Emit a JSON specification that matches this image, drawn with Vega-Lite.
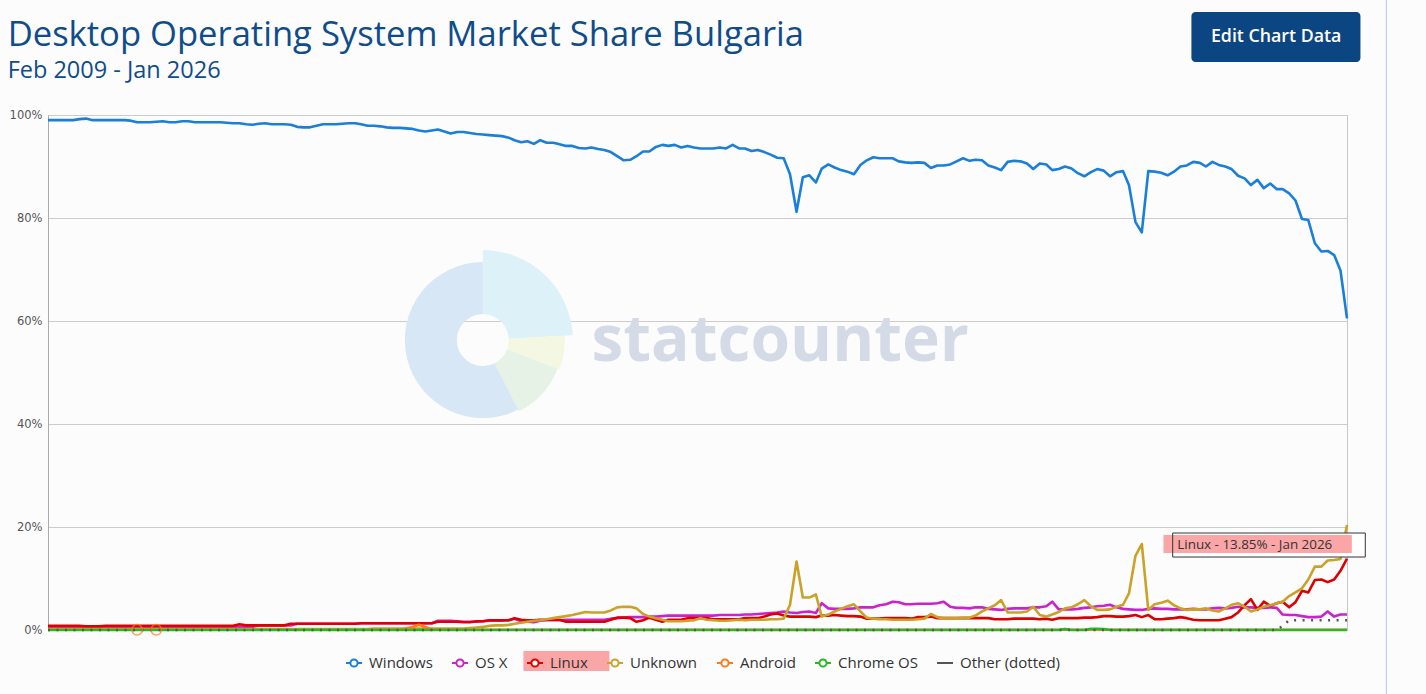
{
"$schema": "https://vega.github.io/schema/vega-lite/v6.json",
"width": 1299, "height": 515,
"autosize": {"type": "none"},
"padding": {"left": 48, "top": 115, "right": 79, "bottom": 64},
"background": "#fcfcfd",
"config": {"view": {"stroke": "#c8c8c8", "strokeWidth": 1}, "font": "Open Sans"},
"datasets": {"share": [
{"month":"2009-02-01","Windows":99.0,"OS X":0.4,"Linux":0.8,"Unknown":0.2,"Chrome OS":0,"Other":0},
{"month":"2009-03-01","Windows":99.0,"OS X":0.4,"Linux":0.8,"Unknown":0.2,"Chrome OS":0,"Other":0},
{"month":"2009-04-01","Windows":99.0,"OS X":0.4,"Linux":0.8,"Unknown":0.2,"Chrome OS":0,"Other":0},
{"month":"2009-05-01","Windows":99.0,"OS X":0.4,"Linux":0.8,"Unknown":0.2,"Chrome OS":0,"Other":0},
{"month":"2009-06-01","Windows":99.0,"OS X":0.4,"Linux":0.8,"Unknown":0.2,"Chrome OS":0,"Other":0},
{"month":"2009-07-01","Windows":99.2,"OS X":0.4,"Linux":0.8,"Unknown":0.2,"Chrome OS":0,"Other":0},
{"month":"2009-08-01","Windows":99.3,"OS X":0.4,"Linux":0.7,"Unknown":0.2,"Chrome OS":0,"Other":0},
{"month":"2009-09-01","Windows":99.0,"OS X":0.4,"Linux":0.7,"Unknown":0.2,"Chrome OS":0,"Other":0},
{"month":"2009-10-01","Windows":99.0,"OS X":0.4,"Linux":0.7,"Unknown":0.2,"Chrome OS":0,"Other":0},
{"month":"2009-11-01","Windows":99.0,"OS X":0.4,"Linux":0.8,"Unknown":0.2,"Chrome OS":0,"Other":0},
{"month":"2009-12-01","Windows":99.0,"OS X":0.4,"Linux":0.8,"Unknown":0.2,"Chrome OS":0,"Other":0},
{"month":"2010-01-01","Windows":99.0,"OS X":0.4,"Linux":0.8,"Unknown":0.2,"Chrome OS":0,"Other":0},
{"month":"2010-02-01","Windows":99.0,"OS X":0.4,"Linux":0.8,"Unknown":0.2,"Chrome OS":0,"Other":0},
{"month":"2010-03-01","Windows":98.9,"OS X":0.5,"Linux":0.8,"Unknown":0.2,"Chrome OS":0,"Other":0},
{"month":"2010-04-01","Windows":98.6,"OS X":0.5,"Linux":0.8,"Unknown":0.2,"Android":0.05,"Chrome OS":0,"Other":0},
{"month":"2010-05-01","Windows":98.6,"OS X":0.5,"Linux":0.8,"Unknown":0.2,"Chrome OS":0,"Other":0},
{"month":"2010-06-01","Windows":98.6,"OS X":0.5,"Linux":0.8,"Unknown":0.2,"Chrome OS":0,"Other":0},
{"month":"2010-07-01","Windows":98.7,"OS X":0.5,"Linux":0.8,"Unknown":0.2,"Android":0.05,"Chrome OS":0,"Other":0},
{"month":"2010-08-01","Windows":98.8,"OS X":0.5,"Linux":0.8,"Unknown":0.2,"Chrome OS":0,"Other":0},
{"month":"2010-09-01","Windows":98.6,"OS X":0.5,"Linux":0.8,"Unknown":0.2,"Chrome OS":0,"Other":0},
{"month":"2010-10-01","Windows":98.6,"OS X":0.5,"Linux":0.8,"Unknown":0.2,"Chrome OS":0,"Other":0},
{"month":"2010-11-01","Windows":98.8,"OS X":0.5,"Linux":0.8,"Unknown":0.2,"Chrome OS":0,"Other":0},
{"month":"2010-12-01","Windows":98.8,"OS X":0.5,"Linux":0.8,"Unknown":0.2,"Chrome OS":0,"Other":0},
{"month":"2011-01-01","Windows":98.6,"OS X":0.5,"Linux":0.8,"Unknown":0.2,"Chrome OS":0,"Other":0},
{"month":"2011-02-01","Windows":98.6,"OS X":0.5,"Linux":0.8,"Unknown":0.2,"Chrome OS":0,"Other":0},
{"month":"2011-03-01","Windows":98.6,"OS X":0.6,"Linux":0.8,"Unknown":0.2,"Chrome OS":0,"Other":0},
{"month":"2011-04-01","Windows":98.6,"OS X":0.6,"Linux":0.8,"Unknown":0.2,"Chrome OS":0,"Other":0},
{"month":"2011-05-01","Windows":98.6,"OS X":0.6,"Linux":0.8,"Unknown":0.2,"Chrome OS":0,"Other":0},
{"month":"2011-06-01","Windows":98.5,"OS X":0.6,"Linux":0.8,"Unknown":0.2,"Chrome OS":0,"Other":0},
{"month":"2011-07-01","Windows":98.4,"OS X":0.6,"Linux":0.8,"Unknown":0.2,"Chrome OS":0,"Other":0},
{"month":"2011-08-01","Windows":98.4,"OS X":0.6,"Linux":1.1,"Unknown":0.2,"Chrome OS":0,"Other":0},
{"month":"2011-09-01","Windows":98.2,"OS X":0.6,"Linux":0.9,"Unknown":0.2,"Chrome OS":0,"Other":0},
{"month":"2011-10-01","Windows":98.1,"OS X":0.6,"Linux":0.9,"Unknown":0.2,"Chrome OS":0,"Other":0},
{"month":"2011-11-01","Windows":98.3,"OS X":0.9,"Linux":0.9,"Unknown":0.2,"Chrome OS":0,"Other":0},
{"month":"2011-12-01","Windows":98.4,"OS X":0.9,"Linux":0.9,"Unknown":0.2,"Chrome OS":0,"Other":0},
{"month":"2012-01-01","Windows":98.2,"OS X":0.9,"Linux":0.9,"Unknown":0.2,"Chrome OS":0,"Other":0},
{"month":"2012-02-01","Windows":98.2,"OS X":0.9,"Linux":0.9,"Unknown":0.2,"Chrome OS":0,"Other":0},
{"month":"2012-03-01","Windows":98.2,"OS X":0.9,"Linux":0.9,"Unknown":0.2,"Chrome OS":0,"Other":0},
{"month":"2012-04-01","Windows":98.1,"OS X":0.9,"Linux":1.2,"Unknown":0.2,"Chrome OS":0,"Other":0},
{"month":"2012-05-01","Windows":97.7,"OS X":1.2,"Linux":1.2,"Unknown":0.2,"Chrome OS":0,"Other":0},
{"month":"2012-06-01","Windows":97.6,"OS X":1.2,"Linux":1.2,"Unknown":0.2,"Chrome OS":0,"Other":0},
{"month":"2012-07-01","Windows":97.6,"OS X":1.2,"Linux":1.2,"Unknown":0.2,"Chrome OS":0,"Other":0},
{"month":"2012-08-01","Windows":97.9,"OS X":1.2,"Linux":1.2,"Unknown":0.2,"Chrome OS":0,"Other":0},
{"month":"2012-09-01","Windows":98.2,"OS X":1.2,"Linux":1.2,"Unknown":0.2,"Chrome OS":0,"Other":0},
{"month":"2012-10-01","Windows":98.2,"OS X":1.2,"Linux":1.2,"Unknown":0.2,"Chrome OS":0,"Other":0},
{"month":"2012-11-01","Windows":98.2,"OS X":1.2,"Linux":1.2,"Unknown":0.2,"Chrome OS":0,"Other":0},
{"month":"2012-12-01","Windows":98.3,"OS X":1.2,"Linux":1.2,"Unknown":0.2,"Chrome OS":0,"Other":0},
{"month":"2013-01-01","Windows":98.4,"OS X":1.2,"Linux":1.2,"Unknown":0.2,"Chrome OS":0,"Other":0},
{"month":"2013-02-01","Windows":98.4,"OS X":1.2,"Linux":1.2,"Unknown":0.2,"Chrome OS":0,"Other":0},
{"month":"2013-03-01","Windows":98.2,"OS X":1.3,"Linux":1.3,"Unknown":0.2,"Chrome OS":0,"Other":0},
{"month":"2013-04-01","Windows":97.9,"OS X":1.3,"Linux":1.3,"Unknown":0.2,"Android":0.05,"Chrome OS":0,"Other":0},
{"month":"2013-05-01","Windows":97.9,"OS X":1.3,"Linux":1.3,"Unknown":0.3,"Android":0.05,"Chrome OS":0,"Other":0},
{"month":"2013-06-01","Windows":97.8,"OS X":1.3,"Linux":1.3,"Unknown":0.3,"Android":0.05,"Chrome OS":0,"Other":0},
{"month":"2013-07-01","Windows":97.6,"OS X":1.3,"Linux":1.3,"Unknown":0.3,"Android":0.05,"Chrome OS":0,"Other":0},
{"month":"2013-08-01","Windows":97.5,"OS X":1.3,"Linux":1.3,"Unknown":0.3,"Android":0.05,"Chrome OS":0,"Other":0},
{"month":"2013-09-01","Windows":97.5,"OS X":1.3,"Linux":1.3,"Unknown":0.3,"Android":0.05,"Chrome OS":0,"Other":0},
{"month":"2013-10-01","Windows":97.4,"OS X":1.3,"Linux":1.3,"Unknown":0.3,"Android":0.3,"Chrome OS":0,"Other":0},
{"month":"2013-11-01","Windows":97.3,"OS X":1.3,"Linux":1.3,"Unknown":0.3,"Android":0.6,"Chrome OS":0,"Other":0},
{"month":"2013-12-01","Windows":97.0,"OS X":1.3,"Linux":1.3,"Unknown":0.3,"Android":1.0,"Chrome OS":0,"Other":0},
{"month":"2014-01-01","Windows":96.8,"OS X":1.3,"Linux":1.3,"Unknown":0.3,"Android":0.6,"Chrome OS":0,"Other":0},
{"month":"2014-02-01","Windows":97.0,"OS X":1.3,"Linux":1.3,"Unknown":0.3,"Android":0.1,"Chrome OS":0,"Other":0},
{"month":"2014-03-01","Windows":97.2,"OS X":1.8,"Linux":1.6,"Unknown":0.3,"Android":0.05,"Chrome OS":0,"Other":0},
{"month":"2014-04-01","Windows":96.8,"OS X":1.8,"Linux":1.6,"Unknown":0.3,"Android":0.05,"Chrome OS":0,"Other":0},
{"month":"2014-05-01","Windows":96.4,"OS X":1.8,"Linux":1.6,"Unknown":0.3,"Android":0.05,"Chrome OS":0,"Other":0},
{"month":"2014-06-01","Windows":96.7,"OS X":1.7,"Linux":1.6,"Unknown":0.3,"Android":0.05,"Chrome OS":0,"Other":0},
{"month":"2014-07-01","Windows":96.7,"OS X":1.6,"Linux":1.5,"Unknown":0.3,"Android":0.05,"Chrome OS":0,"Other":0},
{"month":"2014-08-01","Windows":96.5,"OS X":1.6,"Linux":1.5,"Unknown":0.4,"Android":0.05,"Chrome OS":0,"Other":0},
{"month":"2014-09-01","Windows":96.3,"OS X":1.6,"Linux":1.7,"Unknown":0.5,"Android":0.05,"Chrome OS":0,"Other":0},
{"month":"2014-10-01","Windows":96.2,"OS X":1.7,"Linux":1.7,"Unknown":0.6,"Android":0.05,"Chrome OS":0,"Other":0},
{"month":"2014-11-01","Windows":96.1,"OS X":1.8,"Linux":1.9,"Unknown":0.8,"Android":0.05,"Chrome OS":0,"Other":0},
{"month":"2014-12-01","Windows":96.0,"OS X":1.8,"Linux":1.9,"Unknown":0.9,"Android":0.05,"Chrome OS":0,"Other":0},
{"month":"2015-01-01","Windows":95.9,"OS X":1.8,"Linux":1.9,"Unknown":0.9,"Android":0.05,"Chrome OS":0,"Other":0},
{"month":"2015-02-01","Windows":95.6,"OS X":1.9,"Linux":1.9,"Unknown":1.0,"Android":0.05,"Chrome OS":0,"Other":0},
{"month":"2015-03-01","Windows":95.1,"OS X":2.2,"Linux":2.3,"Unknown":1.2,"Android":0.05,"Chrome OS":0,"Other":0},
{"month":"2015-04-01","Windows":94.7,"OS X":1.7,"Linux":2.0,"Unknown":1.4,"Android":0.05,"Chrome OS":0,"Other":0},
{"month":"2015-05-01","Windows":94.9,"OS X":1.6,"Linux":1.9,"Unknown":1.6,"Android":0.05,"Chrome OS":0,"Other":0},
{"month":"2015-06-01","Windows":94.4,"OS X":1.5,"Linux":1.9,"Unknown":1.8,"Android":0.05,"Chrome OS":0,"Other":0},
{"month":"2015-07-01","Windows":95.1,"OS X":1.8,"Linux":2.0,"Unknown":1.9,"Android":0.05,"Chrome OS":0,"Other":0},
{"month":"2015-08-01","Windows":94.6,"OS X":1.9,"Linux":2.0,"Unknown":2.1,"Android":0.05,"Chrome OS":0,"Other":0},
{"month":"2015-09-01","Windows":94.6,"OS X":1.9,"Linux":2.0,"Unknown":2.3,"Android":0.05,"Chrome OS":0,"Other":0},
{"month":"2015-10-01","Windows":94.3,"OS X":1.9,"Linux":2.0,"Unknown":2.5,"Android":0.05,"Chrome OS":0,"Other":0},
{"month":"2015-11-01","Windows":94.0,"OS X":2.0,"Linux":1.6,"Unknown":2.7,"Android":0.05,"Chrome OS":0,"Other":0},
{"month":"2015-12-01","Windows":94.0,"OS X":2.0,"Linux":1.6,"Unknown":2.9,"Android":0.05,"Chrome OS":0,"Other":0},
{"month":"2016-01-01","Windows":93.6,"OS X":2.0,"Linux":1.6,"Unknown":3.2,"Android":0.05,"Chrome OS":0,"Other":0},
{"month":"2016-02-01","Windows":93.5,"OS X":2.0,"Linux":1.6,"Unknown":3.5,"Android":0.05,"Chrome OS":0,"Other":0},
{"month":"2016-03-01","Windows":93.7,"OS X":2.0,"Linux":1.6,"Unknown":3.4,"Android":0.05,"Chrome OS":0,"Other":0},
{"month":"2016-04-01","Windows":93.4,"OS X":2.0,"Linux":1.6,"Unknown":3.4,"Android":0.05,"Chrome OS":0,"Other":0},
{"month":"2016-05-01","Windows":93.2,"OS X":2.0,"Linux":1.6,"Unknown":3.4,"Android":0.05,"Chrome OS":0,"Other":0},
{"month":"2016-06-01","Windows":92.8,"OS X":2.2,"Linux":2.0,"Unknown":3.8,"Android":0.05,"Chrome OS":0,"Other":0},
{"month":"2016-07-01","Windows":92.0,"OS X":2.3,"Linux":2.4,"Unknown":4.4,"Android":0.05,"Chrome OS":0,"Other":0},
{"month":"2016-08-01","Windows":91.2,"OS X":2.4,"Linux":2.4,"Unknown":4.5,"Android":0.05,"Chrome OS":0,"Other":0},
{"month":"2016-09-01","Windows":91.3,"OS X":2.5,"Linux":2.3,"Unknown":4.5,"Android":0.05,"Chrome OS":0,"Other":0},
{"month":"2016-10-01","Windows":92.0,"OS X":2.5,"Linux":1.6,"Unknown":4.2,"Android":0.05,"Chrome OS":0,"Other":0},
{"month":"2016-11-01","Windows":92.9,"OS X":2.5,"Linux":1.9,"Unknown":3.1,"Android":0.05,"Chrome OS":0,"Other":0},
{"month":"2016-12-01","Windows":92.9,"OS X":2.6,"Linux":2.4,"Unknown":2.6,"Android":0.05,"Chrome OS":0,"Other":0},
{"month":"2017-01-01","Windows":93.8,"OS X":2.6,"Linux":2.0,"Unknown":2.3,"Android":0.05,"Chrome OS":0,"Other":0},
{"month":"2017-02-01","Windows":94.2,"OS X":2.7,"Linux":1.6,"Unknown":2.0,"Android":0.05,"Chrome OS":0,"Other":0},
{"month":"2017-03-01","Windows":94.0,"OS X":2.8,"Linux":2.0,"Unknown":1.7,"Android":0.05,"Chrome OS":0,"Other":0},
{"month":"2017-04-01","Windows":94.2,"OS X":2.8,"Linux":2.0,"Unknown":1.7,"Android":0.05,"Chrome OS":0,"Other":0},
{"month":"2017-05-01","Windows":93.7,"OS X":2.8,"Linux":2.0,"Unknown":1.7,"Android":0.05,"Chrome OS":0,"Other":0},
{"month":"2017-06-01","Windows":94.0,"OS X":2.8,"Linux":2.3,"Unknown":1.8,"Android":0.05,"Chrome OS":0,"Other":0},
{"month":"2017-07-01","Windows":93.7,"OS X":2.8,"Linux":2.3,"Unknown":1.9,"Android":0.05,"Chrome OS":0,"Other":0},
{"month":"2017-08-01","Windows":93.5,"OS X":2.8,"Linux":2.3,"Unknown":2.3,"Android":0.05,"Chrome OS":0,"Other":0},
{"month":"2017-09-01","Windows":93.5,"OS X":2.8,"Linux":2.3,"Unknown":2.0,"Android":0.05,"Chrome OS":0,"Other":0},
{"month":"2017-10-01","Windows":93.5,"OS X":2.8,"Linux":2.1,"Unknown":1.9,"Android":0.05,"Chrome OS":0,"Other":0},
{"month":"2017-11-01","Windows":93.7,"OS X":2.9,"Linux":2.1,"Unknown":1.8,"Android":0.05,"Chrome OS":0,"Other":0},
{"month":"2017-12-01","Windows":93.5,"OS X":2.9,"Linux":2.1,"Unknown":1.8,"Android":0.05,"Chrome OS":0,"Other":0},
{"month":"2018-01-01","Windows":94.2,"OS X":2.9,"Linux":2.1,"Unknown":1.9,"Android":0.05,"Chrome OS":0,"Other":0},
{"month":"2018-02-01","Windows":93.5,"OS X":2.9,"Linux":2.1,"Unknown":2.0,"Android":0.05,"Chrome OS":0,"Other":0},
{"month":"2018-03-01","Windows":93.5,"OS X":3.0,"Linux":2.3,"Unknown":1.9,"Android":0.05,"Chrome OS":0,"Other":0},
{"month":"2018-04-01","Windows":93.0,"OS X":3.0,"Linux":2.3,"Unknown":2.0,"Android":0.05,"Chrome OS":0,"Other":0},
{"month":"2018-05-01","Windows":93.2,"OS X":3.1,"Linux":2.3,"Unknown":2.0,"Android":0.05,"Chrome OS":0,"Other":0},
{"month":"2018-06-01","Windows":92.8,"OS X":3.2,"Linux":2.6,"Unknown":2.0,"Android":0.05,"Chrome OS":0,"Other":0},
{"month":"2018-07-01","Windows":92.3,"OS X":3.3,"Linux":3.0,"Unknown":2.1,"Android":0.05,"Chrome OS":0,"Other":0},
{"month":"2018-08-01","Windows":91.7,"OS X":3.4,"Linux":3.2,"Unknown":2.1,"Android":0.05,"Chrome OS":0,"Other":0},
{"month":"2018-09-01","Windows":91.6,"OS X":3.6,"Linux":2.8,"Unknown":2.2,"Android":0.05,"Chrome OS":0,"Other":0},
{"month":"2018-10-01","Windows":88.5,"OS X":3.4,"Linux":2.6,"Unknown":4.9,"Android":0.05,"Chrome OS":0,"Other":0},
{"month":"2018-11-01","Windows":81.2,"OS X":3.3,"Linux":2.6,"Unknown":13.3,"Android":0.05,"Chrome OS":0,"Other":0},
{"month":"2018-12-01","Windows":87.9,"OS X":3.5,"Linux":2.6,"Unknown":6.3,"Android":0.05,"Chrome OS":0,"Other":0},
{"month":"2019-01-01","Windows":88.3,"OS X":3.6,"Linux":2.6,"Unknown":6.3,"Android":0.05,"Chrome OS":0,"Other":0},
{"month":"2019-02-01","Windows":86.9,"OS X":3.3,"Linux":2.5,"Unknown":6.9,"Android":0.05,"Chrome OS":0,"Other":0},
{"month":"2019-03-01","Windows":89.6,"OS X":5.2,"Linux":2.8,"Unknown":2.6,"Android":0.05,"Chrome OS":0,"Other":0},
{"month":"2019-04-01","Windows":90.4,"OS X":4.2,"Linux":2.8,"Unknown":3.0,"Android":0.05,"Chrome OS":0,"Other":0},
{"month":"2019-05-01","Windows":89.8,"OS X":4.1,"Linux":2.9,"Unknown":3.6,"Android":0.05,"Chrome OS":0,"Other":0},
{"month":"2019-06-01","Windows":89.3,"OS X":4.1,"Linux":2.8,"Unknown":4.1,"Android":0.05,"Chrome OS":0,"Other":0},
{"month":"2019-07-01","Windows":89.0,"OS X":4.1,"Linux":2.7,"Unknown":4.6,"Android":0.05,"Chrome OS":0,"Other":0},
{"month":"2019-08-01","Windows":88.5,"OS X":4.2,"Linux":2.7,"Unknown":5.0,"Android":0.05,"Chrome OS":0,"Other":0},
{"month":"2019-09-01","Windows":90.3,"OS X":4.4,"Linux":2.6,"Unknown":3.6,"Android":0.05,"Chrome OS":0,"Other":0},
{"month":"2019-10-01","Windows":91.2,"OS X":4.4,"Linux":2.2,"Unknown":2.4,"Android":0.05,"Chrome OS":0,"Other":0},
{"month":"2019-11-01","Windows":91.8,"OS X":4.4,"Linux":2.2,"Unknown":2.2,"Android":0.05,"Chrome OS":0,"Other":0},
{"month":"2019-12-01","Windows":91.6,"OS X":4.8,"Linux":2.2,"Unknown":2.1,"Android":0.05,"Chrome OS":0,"Other":0},
{"month":"2020-01-01","Windows":91.6,"OS X":5.0,"Linux":2.3,"Unknown":2.1,"Android":0.05,"Chrome OS":0,"Other":0},
{"month":"2020-02-01","Windows":91.6,"OS X":5.5,"Linux":2.3,"Unknown":2.0,"Android":0.05,"Chrome OS":0,"Other":0},
{"month":"2020-03-01","Windows":91.0,"OS X":5.4,"Linux":2.3,"Unknown":2.0,"Android":0.05,"Chrome OS":0,"Other":0},
{"month":"2020-04-01","Windows":90.8,"OS X":5.0,"Linux":2.3,"Unknown":2.0,"Android":0.05,"Chrome OS":0,"Other":0},
{"month":"2020-05-01","Windows":90.7,"OS X":5.0,"Linux":2.2,"Unknown":2.0,"Android":0.05,"Chrome OS":0,"Other":0},
{"month":"2020-06-01","Windows":90.8,"OS X":5.1,"Linux":2.5,"Unknown":2.1,"Android":0.05,"Chrome OS":0,"Other":0},
{"month":"2020-07-01","Windows":90.7,"OS X":5.1,"Linux":2.5,"Unknown":2.2,"Android":0.05,"Chrome OS":0,"Other":0},
{"month":"2020-08-01","Windows":89.7,"OS X":5.1,"Linux":2.6,"Unknown":3.1,"Android":0.05,"Chrome OS":0,"Other":0},
{"month":"2020-09-01","Windows":90.2,"OS X":5.2,"Linux":2.3,"Unknown":2.5,"Android":0.05,"Chrome OS":0,"Other":0},
{"month":"2020-10-01","Windows":90.2,"OS X":5.5,"Linux":2.3,"Unknown":2.3,"Android":0.05,"Chrome OS":0,"Other":0},
{"month":"2020-11-01","Windows":90.4,"OS X":4.5,"Linux":2.3,"Unknown":2.3,"Android":0.05,"Chrome OS":0,"Other":0},
{"month":"2020-12-01","Windows":91.0,"OS X":4.3,"Linux":2.3,"Unknown":2.3,"Android":0.05,"Chrome OS":0,"Other":0},
{"month":"2021-01-01","Windows":91.6,"OS X":4.3,"Linux":2.3,"Unknown":2.4,"Android":0.05,"Chrome OS":0,"Other":0},
{"month":"2021-02-01","Windows":91.1,"OS X":4.2,"Linux":2.3,"Unknown":2.4,"Android":0.05,"Chrome OS":0,"Other":0},
{"month":"2021-03-01","Windows":91.3,"OS X":4.4,"Linux":2.3,"Unknown":2.8,"Android":0.05,"Chrome OS":0,"Other":0},
{"month":"2021-04-01","Windows":91.2,"OS X":4.4,"Linux":2.3,"Unknown":3.6,"Android":0.05,"Chrome OS":0,"Other":0},
{"month":"2021-05-01","Windows":90.2,"OS X":4.1,"Linux":2.3,"Unknown":4.2,"Android":0.05,"Chrome OS":0,"Other":0},
{"month":"2021-06-01","Windows":89.8,"OS X":4.0,"Linux":2.1,"Unknown":4.8,"Android":0.05,"Chrome OS":0,"Other":0},
{"month":"2021-07-01","Windows":89.3,"OS X":3.9,"Linux":2.1,"Unknown":5.8,"Android":0.05,"Chrome OS":0,"Other":0},
{"month":"2021-08-01","Windows":90.9,"OS X":4.1,"Linux":2.1,"Unknown":3.4,"Android":0.05,"Chrome OS":0,"Other":0},
{"month":"2021-09-01","Windows":91.1,"OS X":4.2,"Linux":2.2,"Unknown":3.4,"Android":0.05,"Chrome OS":0,"Other":0},
{"month":"2021-10-01","Windows":91.0,"OS X":4.2,"Linux":2.2,"Unknown":3.4,"Android":0.05,"Chrome OS":0,"Other":0},
{"month":"2021-11-01","Windows":90.6,"OS X":4.2,"Linux":2.2,"Unknown":3.6,"Android":0.05,"Chrome OS":0,"Other":0},
{"month":"2021-12-01","Windows":89.5,"OS X":4.4,"Linux":2.2,"Unknown":4.5,"Android":0.05,"Chrome OS":0,"Other":0},
{"month":"2022-01-01","Windows":90.6,"OS X":4.4,"Linux":2.1,"Unknown":2.9,"Android":0.05,"Chrome OS":0,"Other":0},
{"month":"2022-02-01","Windows":90.4,"OS X":4.6,"Linux":2.2,"Unknown":2.6,"Android":0.05,"Chrome OS":0,"Other":0},
{"month":"2022-03-01","Windows":89.3,"OS X":5.5,"Linux":2.0,"Unknown":3.0,"Android":0.05,"Chrome OS":0,"Other":0},
{"month":"2022-04-01","Windows":89.5,"OS X":4.0,"Linux":2.3,"Unknown":3.5,"Android":0.05,"Chrome OS":0,"Other":0},
{"month":"2022-05-01","Windows":90.0,"OS X":4.0,"Linux":2.3,"Unknown":4.2,"Android":0.05,"Chrome OS":0.2,"Other":0},
{"month":"2022-06-01","Windows":89.6,"OS X":4.0,"Linux":2.3,"Unknown":4.4,"Android":0.05,"Chrome OS":0,"Other":0},
{"month":"2022-07-01","Windows":88.7,"OS X":4.1,"Linux":2.3,"Unknown":5.0,"Android":0.05,"Chrome OS":0,"Other":0},
{"month":"2022-08-01","Windows":88.1,"OS X":4.3,"Linux":2.4,"Unknown":5.8,"Android":0.05,"Chrome OS":0,"Other":0},
{"month":"2022-09-01","Windows":88.9,"OS X":4.4,"Linux":2.4,"Unknown":4.6,"Android":0.05,"Chrome OS":0.25,"Other":0},
{"month":"2022-10-01","Windows":89.5,"OS X":4.6,"Linux":2.5,"Unknown":3.9,"Android":0.05,"Chrome OS":0.25,"Other":0},
{"month":"2022-11-01","Windows":89.2,"OS X":4.7,"Linux":2.7,"Unknown":3.9,"Android":0.05,"Chrome OS":0.2,"Other":0},
{"month":"2022-12-01","Windows":88.1,"OS X":4.9,"Linux":2.7,"Unknown":4.0,"Android":0.05,"Chrome OS":0,"Other":0},
{"month":"2023-01-01","Windows":88.9,"OS X":4.4,"Linux":2.6,"Unknown":4.5,"Android":0.05,"Chrome OS":0,"Other":0},
{"month":"2023-02-01","Windows":89.1,"OS X":4.1,"Linux":2.6,"Unknown":4.9,"Android":0.05,"Chrome OS":0,"Other":0},
{"month":"2023-03-01","Windows":86.4,"OS X":4.0,"Linux":2.7,"Unknown":7.1,"Android":0.05,"Chrome OS":0,"Other":0},
{"month":"2023-04-01","Windows":79.2,"OS X":3.9,"Linux":2.9,"Unknown":14.4,"Android":0.05,"Chrome OS":0,"Other":0},
{"month":"2023-05-01","Windows":77.2,"OS X":3.9,"Linux":2.5,"Unknown":16.7,"Android":0.05,"Chrome OS":0,"Other":0},
{"month":"2023-06-01","Windows":89.1,"OS X":4.1,"Linux":2.9,"Unknown":3.9,"Android":0.05,"Chrome OS":0,"Other":0},
{"month":"2023-07-01","Windows":89.0,"OS X":4.2,"Linux":2.1,"Unknown":5.0,"Android":0.05,"Chrome OS":0,"Other":0},
{"month":"2023-08-01","Windows":88.8,"OS X":4.1,"Linux":2.1,"Unknown":5.3,"Android":0.05,"Chrome OS":0,"Other":0},
{"month":"2023-09-01","Windows":88.3,"OS X":4.1,"Linux":2.2,"Unknown":5.7,"Android":0.05,"Chrome OS":0,"Other":0},
{"month":"2023-10-01","Windows":89.0,"OS X":4.0,"Linux":2.3,"Unknown":4.8,"Android":0.05,"Chrome OS":0,"Other":0},
{"month":"2023-11-01","Windows":90.0,"OS X":4.0,"Linux":2.5,"Unknown":4.2,"Android":0.05,"Chrome OS":0,"Other":0},
{"month":"2023-12-01","Windows":90.2,"OS X":4.0,"Linux":2.3,"Unknown":3.9,"Android":0.05,"Chrome OS":0,"Other":0},
{"month":"2024-01-01","Windows":90.9,"OS X":4.1,"Linux":2.0,"Unknown":4.0,"Android":0.05,"Chrome OS":0,"Other":0},
{"month":"2024-02-01","Windows":90.7,"OS X":4.0,"Linux":1.9,"Unknown":4.0,"Android":0.05,"Chrome OS":0,"Other":0},
{"month":"2024-03-01","Windows":90.0,"OS X":4.0,"Linux":1.9,"Unknown":4.2,"Android":0.05,"Chrome OS":0,"Other":0},
{"month":"2024-04-01","Windows":90.9,"OS X":4.2,"Linux":1.9,"Unknown":3.8,"Android":0.05,"Chrome OS":0,"Other":0},
{"month":"2024-05-01","Windows":90.3,"OS X":4.3,"Linux":1.9,"Unknown":3.6,"Android":0.05,"Chrome OS":0,"Other":0},
{"month":"2024-06-01","Windows":90.0,"OS X":4.2,"Linux":2.2,"Unknown":4.2,"Android":0.05,"Chrome OS":0,"Other":0},
{"month":"2024-07-01","Windows":89.5,"OS X":4.3,"Linux":2.5,"Unknown":4.9,"Android":0.05,"Chrome OS":0,"Other":0},
{"month":"2024-08-01","Windows":88.2,"OS X":4.5,"Linux":3.4,"Unknown":5.2,"Android":0.05,"Chrome OS":0,"Other":0},
{"month":"2024-09-01","Windows":87.7,"OS X":4.4,"Linux":4.8,"Unknown":4.5,"Android":0.05,"Chrome OS":0,"Other":0},
{"month":"2024-10-01","Windows":86.4,"OS X":4.4,"Linux":6.0,"Unknown":3.6,"Android":0.05,"Chrome OS":0,"Other":0},
{"month":"2024-11-01","Windows":87.4,"OS X":4.3,"Linux":3.9,"Unknown":4.0,"Android":0.05,"Chrome OS":0,"Other":0},
{"month":"2024-12-01","Windows":85.8,"OS X":4.3,"Linux":5.5,"Unknown":4.5,"Android":0.05,"Chrome OS":0,"Other":0},
{"month":"2025-01-01","Windows":86.7,"OS X":4.4,"Linux":4.7,"Unknown":4.8,"Android":0.05,"Chrome OS":0,"Other":0},
{"month":"2025-02-01","Windows":85.6,"OS X":4.3,"Linux":5.2,"Unknown":5.2,"Android":0.05,"Chrome OS":0,"Other":0},
{"month":"2025-03-01","Windows":85.6,"OS X":3.0,"Linux":5.5,"Unknown":5.5,"Android":0.05,"Chrome OS":0,"Other":0.8},
{"month":"2025-04-01","Windows":84.8,"OS X":2.9,"Linux":4.4,"Unknown":6.6,"Android":0.05,"Chrome OS":0,"Other":1.9},
{"month":"2025-05-01","Windows":83.4,"OS X":2.9,"Linux":5.4,"Unknown":7.3,"Android":0.05,"Chrome OS":0,"Other":1.9},
{"month":"2025-06-01","Windows":79.8,"OS X":2.7,"Linux":7.6,"Unknown":8.1,"Android":0.05,"Chrome OS":0,"Other":1.9},
{"month":"2025-07-01","Windows":79.6,"OS X":2.5,"Linux":7.3,"Unknown":9.8,"Android":0.05,"Chrome OS":0,"Other":1.9},
{"month":"2025-08-01","Windows":75.1,"OS X":2.5,"Linux":9.7,"Unknown":12.3,"Android":0.05,"Chrome OS":0,"Other":1.9},
{"month":"2025-09-01","Windows":73.5,"OS X":2.6,"Linux":9.8,"Unknown":12.3,"Android":0.05,"Chrome OS":0,"Other":1.9},
{"month":"2025-10-01","Windows":73.6,"OS X":3.6,"Linux":9.3,"Unknown":13.5,"Android":0.05,"Chrome OS":0,"Other":1.9},
{"month":"2025-11-01","Windows":72.8,"OS X":2.6,"Linux":9.8,"Unknown":13.6,"Android":0.05,"Chrome OS":0,"Other":1.9},
{"month":"2025-12-01","Windows":69.8,"OS X":3.0,"Linux":11.5,"Unknown":13.8,"Android":0.05,"Chrome OS":0,"Other":1.9},
{"month":"2026-01-01","Windows":60.5,"OS X":3.0,"Linux":13.85,"Unknown":20.4,"Android":0.05,"Chrome OS":0,"Other":1.9}
]},
"layer": [
 {"data": {"name": "share"},
  "transform": [{"fold": ["Windows", "OS X", "Linux", "Unknown", "Android", "Chrome OS"], "as": ["os", "share"]}],
  "mark": {"type": "line", "strokeWidth": 2.6, "strokeJoin": "round", "invalid": "break-paths-filter-domains", "opacity": 0},
  "encoding": {
   "x": {"field": "month", "type": "temporal", "scale": {"domain": [{"year": 2009, "month": 2, "date": 1, "utc": true}, {"year": 2026, "month": 1, "date": 1, "utc": true}], "nice": false}, "axis": null},
   "y": {"field": "share", "type": "quantitative", "scale": {"domain": [0, 100], "nice": false, "zero": false},
    "axis": {"title": null, "values": [0, 20, 40, 60, 80, 100], "labelExpr": "datum.value + '%'", "grid": true, "gridColor": "#cccccc", "domain": true, "domainColor": "#aaaaaa", "ticks": false, "labelPadding": 6, "labelFont": "DejaVu Sans", "labelFontSize": 11.5, "labelColor": "#555555"}}
  }},
 {"data": {"values": [{}]},
  "mark": {"type": "arc", "theta": 0, "theta2": 1.518, "innerRadius": 26, "outerRadius": 90, "fill": "#ddf1f9"},
  "encoding": {"x": {"datum": {"year": 2014, "month": 10, "date": 1, "utc": true}, "type": "temporal", "axis": null}, "y": {"datum": 56.3, "type": "quantitative"}}},
 {"data": {"values": [{}]},
  "mark": {"type": "arc", "theta": 1.518, "theta2": 1.937, "innerRadius": 26, "outerRadius": 82, "fill": "#f4f7e1"},
  "encoding": {"x": {"datum": {"year": 2014, "month": 10, "date": 1, "utc": true}, "type": "temporal", "axis": null}, "y": {"datum": 56.3, "type": "quantitative"}}},
 {"data": {"values": [{}]},
  "mark": {"type": "arc", "theta": 1.937, "theta2": 2.67, "innerRadius": 26, "outerRadius": 80, "fill": "#e7f2e6"},
  "encoding": {"x": {"datum": {"year": 2014, "month": 10, "date": 1, "utc": true}, "type": "temporal", "axis": null}, "y": {"datum": 56.3, "type": "quantitative"}}},
 {"data": {"values": [{}]},
  "mark": {"type": "arc", "theta": 2.67, "theta2": 6.2832, "innerRadius": 26, "outerRadius": 78, "fill": "#d8e7f5"},
  "encoding": {"x": {"datum": {"year": 2014, "month": 10, "date": 1, "utc": true}, "type": "temporal", "axis": null}, "y": {"datum": 56.3, "type": "quantitative"}}},
 {"data": {"values": [{}]},
  "mark": {"type": "text", "text": "statcounter", "align": "left", "baseline": "alphabetic", "font": "Open Sans", "fontSize": 64, "fontWeight": "bold", "fill": "#d5dbe6"},
  "encoding": {"x": {"datum": {"year": 2016, "month": 3, "date": 1, "utc": true}, "type": "temporal", "axis": null}, "y": {"datum": 52.2, "type": "quantitative"}}},
 {"data": {"name": "share"},
  "transform": [{"fold": ["Windows", "OS X", "Linux", "Unknown", "Android", "Chrome OS"], "as": ["os", "share"]}],
  "mark": {"type": "line", "strokeWidth": 2.6, "strokeJoin": "round", "invalid": "break-paths-filter-domains"},
  "encoding": {
   "x": {"field": "month", "type": "temporal", "axis": null},
   "y": {"field": "share", "type": "quantitative"},
   "color": {"field": "os", "type": "nominal",
    "scale": {"domain": ["Windows", "OS X", "Linux", "Unknown", "Android", "Chrome OS", "Other"], "range": ["#1a7fd8", "#cc22cc", "#dd0000", "#c9a227", "#ff7a1a", "#22bb22", "#555555"]},
    "legend": {"orient": "none", "legendX": 297, "legendY": 539, "direction": "horizontal", "title": null,
     "labelFont": "Open Sans", "labelFontSize": 15, "labelColor": "#333333", "labelOffset": 6, "columnPadding": 15,
     "symbolType": "M-1,0H-0.45M0.45,0H1M0.45,0A0.45,0.45,0,1,1,-0.45,0A0.45,0.45,0,1,1,0.45,0",
     "symbolSize": 256, "symbolStrokeWidth": 2, "symbolFillColor": "#ffffff",
     "labelExpr": "datum.label == 'Other' ? 'Other (dotted)' : datum.label",
     "encode": {"symbols": {"update": {"shape": {"signal": "datum.value == 'Other' ? 'stroke' : 'M-1,0H-0.45M0.45,0H1M0.45,0A0.45,0.45,0,1,1,-0.45,0A0.45,0.45,0,1,1,0.45,0'"}}}}}}
  }},
 {"data": {"name": "share"},
  "transform": [{"fold": ["Other"], "as": ["os", "share"]}],
  "mark": {"type": "line", "strokeWidth": 2.5, "strokeDash": [2, 6.5], "strokeCap": "butt"},
  "encoding": {
   "x": {"field": "month", "type": "temporal", "axis": null},
   "y": {"field": "share", "type": "quantitative"},
   "color": {"field": "os", "type": "nominal"}
  }},
 {"data": {"name": "share"},
  "transform": [
   {"fold": ["Android"], "as": ["os", "share"]},
   {"window": [{"op": "lag", "field": "share", "as": "prev"}, {"op": "lead", "field": "share", "as": "next"}], "sort": [{"field": "month"}]},
   {"filter": "isValid(datum.share) && !isValid(datum.prev) && !isValid(datum.next)"}
  ],
  "mark": {"type": "point", "shape": "circle", "filled": false, "size": 110, "strokeWidth": 1.5, "color": "#ff7a1a"},
  "encoding": {
   "x": {"field": "month", "type": "temporal", "axis": null},
   "y": {"field": "share", "type": "quantitative"}
  }},
 {"data": {"values": [{}]},
  "mark": {"type": "rect", "fill": "#ffffff"},
  "encoding": {"x": {"datum": {"year": 2023, "month": 9, "date": 25, "utc": true}, "type": "temporal", "axis": null}, "x2": {"datum": {"year": 2026, "month": 3, "date": 29, "utc": true}}, "y": {"datum": 18.83, "type": "quantitative"}, "y2": {"datum": 14.17}}},
 {"data": {"values": [{}]},
  "mark": {"type": "rect", "fill": "#fba6a6"},
  "encoding": {"x": {"datum": {"year": 2023, "month": 8, "date": 12, "utc": true}, "type": "temporal", "axis": null}, "x2": {"datum": {"year": 2026, "month": 1, "date": 24, "utc": true}}, "y": {"datum": 18.45, "type": "quantitative"}, "y2": {"datum": 14.95}}},
 {"data": {"values": [{}]},
  "mark": {"type": "rect", "fill": null, "fillOpacity": 0, "stroke": "#333333", "strokeWidth": 1},
  "encoding": {"x": {"datum": {"year": 2023, "month": 9, "date": 25, "utc": true}, "type": "temporal", "axis": null}, "x2": {"datum": {"year": 2026, "month": 3, "date": 29, "utc": true}}, "y": {"datum": 18.83, "type": "quantitative"}, "y2": {"datum": 14.17}}},
 {"data": {"values": [{}]},
  "mark": {"type": "text", "text": "Linux - 13.85% - Jan 2026", "align": "left", "baseline": "middle", "font": "Open Sans", "fontSize": 13.4, "fill": "#333333"},
  "encoding": {"x": {"datum": {"year": 2023, "month": 10, "date": 17, "utc": true}, "type": "temporal", "axis": null}, "y": {"datum": 16.5, "type": "quantitative"}}},
 {"data": {"values": [{}]},
  "mark": {"type": "rect", "fill": "#fba6a6"},
  "encoding": {"x": {"datum": {"year": 2015, "month": 4, "date": 12, "utc": true}, "type": "temporal", "axis": null}, "x2": {"datum": {"year": 2016, "month": 5, "date": 25, "utc": true}}, "y": {"datum": -4.08, "type": "quantitative"}, "y2": {"datum": -7.96}}},
 {"data": {"values": [{}]},
  "mark": {"type": "rect", "fill": "#0b4683", "cornerRadius": 4},
  "encoding": {"x": {"datum": {"year": 2023, "month": 12, "date": 23, "utc": true}, "type": "temporal", "axis": null}, "x2": {"datum": {"year": 2026, "month": 3, "date": 6, "utc": true}}, "y": {"datum": 120.0, "type": "quantitative"}, "y2": {"datum": 110.3}}},
 {"data": {"values": [{}]},
  "mark": {"type": "text", "text": "Edit Chart Data", "align": "center", "baseline": "middle", "font": "Open Sans", "fontSize": 17.8, "fontWeight": 600, "fill": "#ffffff"},
  "encoding": {"x": {"datum": {"year": 2025, "month": 1, "date": 29, "utc": true}, "type": "temporal", "axis": null}, "y": {"datum": 115.15, "type": "quantitative"}}},
 {"data": {"values": [{}]},
  "mark": {"type": "rule", "stroke": "#b7c9de", "strokeWidth": 1},
  "encoding": {"x": {"datum": {"year": 2026, "month": 7, "date": 7, "utc": true}, "type": "temporal", "axis": null}, "y": {"datum": 122.4, "type": "quantitative"}, "y2": {"datum": -12.5}}},
 {"data": {"values": [{}]},
  "mark": {"type": "text", "text": "Desktop Operating System Market Share Bulgaria", "align": "left", "baseline": "alphabetic", "font": "Open Sans", "fontSize": 34.6, "fill": "#0f4c89"},
  "encoding": {"x": {"datum": {"year": 2008, "month": 7, "date": 24, "utc": true}, "type": "temporal", "axis": null}, "y": {"datum": 113.4, "type": "quantitative"}}},
 {"data": {"values": [{}]},
  "mark": {"type": "text", "text": "Feb 2009 - Jan 2026", "align": "left", "baseline": "alphabetic", "font": "Open Sans", "fontSize": 23.5, "fill": "#0f4c89"},
  "encoding": {"x": {"datum": {"year": 2008, "month": 7, "date": 24, "utc": true}, "type": "temporal", "axis": null}, "y": {"datum": 107.2, "type": "quantitative"}}}
]
}
